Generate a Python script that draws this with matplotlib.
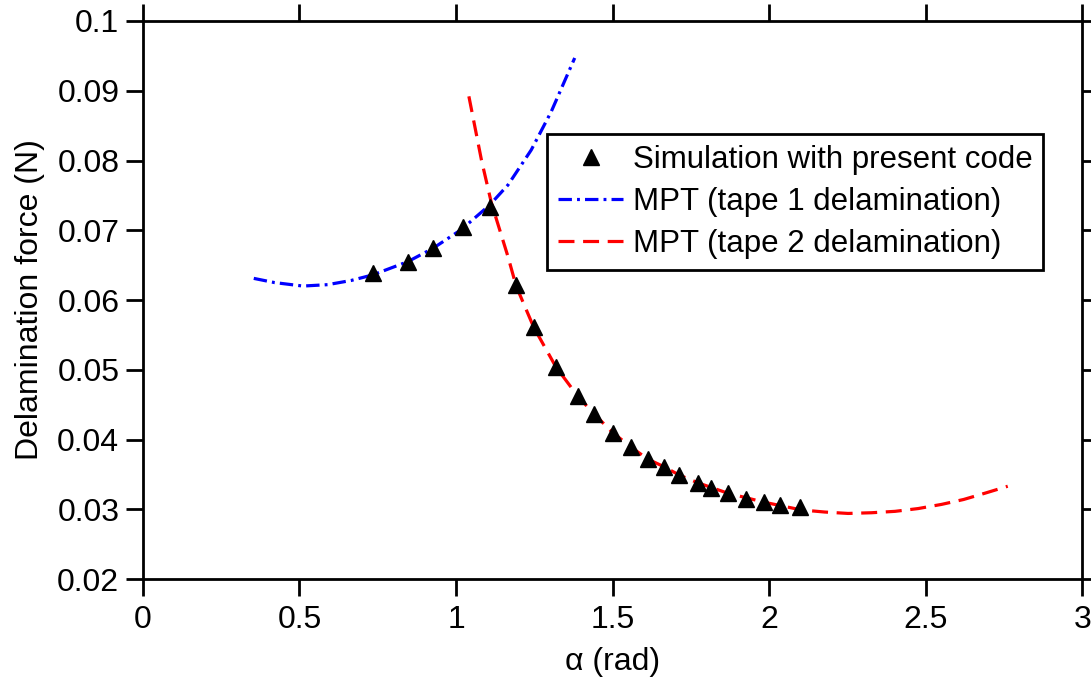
import matplotlib

matplotlib.use("Agg")
import matplotlib.pyplot as plt

plt.rcParams["font.family"] = ["Liberation Sans", "DejaVu Sans"]

# simulation points (alpha in rad, force in N)
sim_alpha = [0.734, 0.846, 0.925, 1.021, 1.110, 1.192, 1.248, 1.319, 1.389, 1.440, 1.500,
             1.559, 1.612, 1.664, 1.713, 1.772, 1.815, 1.868, 1.927, 1.985, 2.035, 2.099]
sim_force = [0.0638, 0.0655, 0.0675, 0.0705, 0.0734, 0.0622, 0.0561, 0.0504, 0.0462, 0.0437, 0.0410,
             0.0389, 0.0372, 0.0361, 0.0349, 0.0338, 0.0330, 0.0323, 0.0315, 0.0311, 0.0306, 0.0303]

# MPT, tape 1 delamination
mpt1_alpha = [0.354, 0.420, 0.511, 0.590, 0.665, 0.734, 0.846, 0.926, 1.017, 1.107, 1.166, 1.240, 1.304, 1.379]
mpt1_force = [0.0631, 0.0625, 0.0620, 0.0622, 0.0628, 0.0636, 0.0655, 0.0674, 0.0701, 0.0736, 0.0765,
              0.0815, 0.0870, 0.0947]

# MPT, tape 2 delamination
mpt2_alpha = [1.041, 1.081, 1.113, 1.166, 1.192, 1.248, 1.319, 1.389, 1.440, 1.500, 1.559, 1.612, 1.664,
              1.713, 1.772, 1.868, 1.985, 2.103, 2.178, 2.252, 2.327, 2.402, 2.476, 2.551, 2.621, 2.689, 2.762]
mpt2_force = [0.0892, 0.0801, 0.0739, 0.0662, 0.0620, 0.0561, 0.0504, 0.0462, 0.0437, 0.0410, 0.0389,
              0.0372, 0.0361, 0.0349, 0.0338, 0.0323, 0.0310, 0.0299, 0.0296, 0.0294, 0.0295, 0.0297,
              0.0301, 0.0307, 0.0314, 0.0323, 0.0333]

xticks = [0, 0.5, 1, 1.5, 2, 2.5, 3]
xtick_labels = ["0", "0.5", "1", "1.5", "2", "2.5", "3"]
yticks = [0.02, 0.03, 0.04, 0.05, 0.06, 0.07, 0.08, 0.09, 0.1]
ytick_labels = ["0.02", "0.03", "0.04", "0.05", "0.06", "0.07", "0.08", "0.09", "0.1"]

FS = 23

fig = plt.figure(figsize=(10.91, 6.84), dpi=100)
ax = fig.add_axes([0.131, 0.1535, 0.861, 0.8158])

ax.plot(sim_alpha, sim_force, linestyle="none", marker="^", markersize=11,
        color="black", mec="black", label="Simulation with present code", zorder=3)
ax.plot(mpt1_alpha, mpt1_force, color="#0000ff", lw=2.3, dashes=(4.2, 1.6, 0.9, 1.6),
        label="MPT (tape 1 delamination)", zorder=2)
ax.plot(mpt2_alpha, mpt2_force, color="#ff0000", lw=2.3, dashes=(5.0, 2.7),
        label="MPT (tape 2 delamination)", zorder=2)

ax.set_xlim(0, 3)
ax.set_ylim(0.02, 0.1)
ax.set_xticks(xticks)
ax.set_xticklabels(xtick_labels)
ax.set_yticks(yticks)
ax.set_yticklabels(ytick_labels)

for s in ax.spines.values():
    s.set_linewidth(2.0)
ax.tick_params(direction="out", length=12, width=2.0, labelsize=FS, pad=5,
               top=True, right=True)
ax.tick_params(axis="x", pad=7)

ax.set_xlabel("α (rad)", fontsize=FS, labelpad=8)
ax.set_ylabel("Delamination force (N)", fontsize=FS, labelpad=9)

leg = ax.legend(loc="upper left", bbox_to_anchor=(0.430, 0.7975), fontsize=22.5,
                frameon=True, fancybox=False, framealpha=1, edgecolor="black",
                handlelength=2.1, handletextpad=0.3, borderpad=0.35, labelspacing=0.38,
                borderaxespad=0)
leg.get_frame().set_linewidth(2.0)

fig.savefig("out.png", dpi=100, facecolor="white")
plt.close(fig)
